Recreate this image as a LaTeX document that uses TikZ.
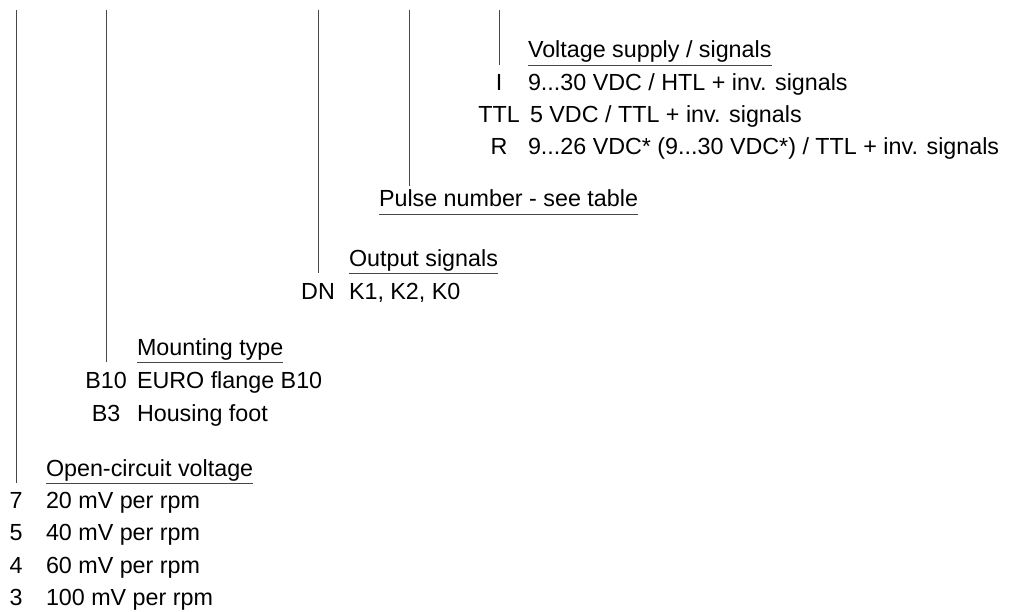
\documentclass[tikz,border=0pt]{standalone}
\usepackage{fontspec}
\setmainfont{Liberation Sans}
\begin{document}
\begin{tikzpicture}[x=1pt,y=-1pt,
  txt/.style={inner sep=0pt,outer sep=0pt,anchor=base west,font=\fontsize{23.3}{28}\selectfont,text=black},
  code/.style={inner sep=0pt,outer sep=0pt,anchor=base,font=\fontsize{23.3}{28}\selectfont,text=black},
  rule/.style={draw=black!72,line width=0.9pt}]
\useasboundingbox (0,0) rectangle (1016,612);
% tops of leader lines
\coordinate (t1) at (16,10);
\coordinate (t2) at (106,10);
\coordinate (t3) at (318,10);
\coordinate (t4) at (409,10);
\coordinate (t5) at (499,10);
% Voltage supply / signals
\node[txt] (h5) at (528,58) {Voltage supply / signals};
\node[code] (c5a) at (499,91) {I};
\node[txt] (i5a) at (528,91) {9...30 VDC / HTL + inv. signals};
\node[code] (c5b) at (499,123) {TTL};
\node[txt] (i5b) at (530,123) {5 VDC / TTL + inv. signals};
\node[code] (c5c) at (499,155) {R};
\node[txt] (i5c) at (528,155) {9...26 VDC* (9...30 VDC*) / TTL + inv. signals};
% Pulse number
\node[txt] (h4) at (379,207) {Pulse number - see table};
% Output signals
\node[txt] (h3) at (349,266) {Output signals};
\node[code] (c3a) at (318,299) {DN};
\node[txt] (i3a) at (349,299) {K1, K2, K0};
% Mounting type
\node[txt] (h2) at (137,355) {Mounting type};
\node[code] (c2a) at (106,388) {B10};
\node[txt] (i2a) at (137,388) {EURO flange B10};
\node[code] (c2b) at (106,421) {B3};
\node[txt] (i2b) at (137,421) {Housing foot};
% Open-circuit voltage
\node[txt] (h1) at (46,476) {Open-circuit voltage};
\node[code] (c1a) at (16,508) {7};
\node[txt] (i1a) at (46,508) {20 mV per rpm};
\node[code] (c1b) at (16,540) {5};
\node[txt] (i1b) at (46,540) {40 mV per rpm};
\node[code] (c1c) at (16,573) {4};
\node[txt] (i1c) at (46,573) {60 mV per rpm};
\node[code] (c1d) at (16,605) {3};
\node[txt] (i1d) at (46,605) {100 mV per rpm};
% underlines
\foreach \h in {h1,h2,h3,h4,h5}{
  \coordinate (u\h) at ([yshift=-7pt]\h.base west);
  \draw[rule] (u\h) -- ([yshift=-7pt]\h.base east);
}
% leader lines
\coordinate (e4) at ([yshift=4pt]h4.north);
\draw[rule] (t1) -- (t1 |- uh1);
\draw[rule] (t2) -- (t2 |- uh2);
\draw[rule] (t3) -- (t3 |- uh3);
\draw[rule] (t4) -- (t4 |- e4);
\draw[rule] (t5) -- (t5 |- uh5);
\end{tikzpicture}
\end{document}
